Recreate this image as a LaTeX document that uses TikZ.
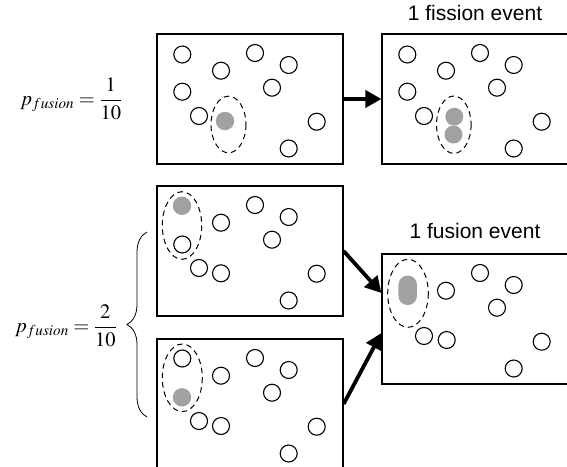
\documentclass[tikz,border=0pt]{standalone}
\usepackage{mathptmx}
\usepackage{fontspec}
\newfontfamily\evfont{Liberation Sans}
\usetikzlibrary{arrows.meta,decorations.pathreplacing,positioning}
\tikzset{
  box/.style={draw, line width=1.2pt, minimum width=186pt, minimum height=130pt, inner sep=0pt},
  particle/.style={draw, line width=1.1pt},
  grayparticle/.style={fill=black!37},
  cloud/.style={draw, line width=1pt, dash pattern=on 5.5pt off 4pt},
  bigarrow/.style={line width=3.8pt, -{Triangle[length=16pt,width=17pt]}},
  evlabel/.style={font=\evfont\fontsize{21}{25}\selectfont, inner sep=0pt},
  plabel/.style={font=\fontsize{20.5}{25}\selectfont, inner sep=0pt}
}
\def\sharedparts(#1){%
  \begin{scope}[shift={(#1)}]
    \draw[particle] (64,36.7) circle (8.5);
    \draw[particle] (98,19) circle (8.5);
    \draw[particle] (131.7,31) circle (8.5);
    \draw[particle] (115,53.7) circle (8.5);
    \draw[particle] (42,82) circle (8.5);
    \draw[particle] (159.7,87.7) circle (8.5);
    \draw[particle] (131.7,114.5) circle (8.5);
  \end{scope}}

\begin{document}
\begin{tikzpicture}[x=1pt, y=-1pt]
		%%%%% START %%%%%
		\useasboundingbox (0,0) rectangle (567,466);
		
		\node[box] (boxA) at (250,99) {};
		\node[box] (boxB) at (475,99) {};
		\node[box] (boxC) at (250,251) {};
		\node[box] (boxD) at (250,404) {};
		\node[box] (boxE) at (475,319) {};
		
		% top row
		\sharedparts(157,34)
		\draw[particle] (182.3,54.5) circle (8.5);
		\draw[particle] (182.3,91.7) circle (8.5);
		\fill[grayparticle] (225,121) circle (9.2);
		\draw[cloud] (228.5,124.5) ellipse (17.5 and 28.3);
		
		\sharedparts(382,34)
		\draw[particle] (407.3,54.5) circle (8.5);
		\draw[particle] (407.3,91.7) circle (8.5);
		\fill[grayparticle] (454.3,116.7) circle (9);
		\fill[grayparticle] (453.5,134.5) circle (9);
		\draw[cloud] (453.8,124.7) ellipse (17.3 and 28.7);
		
		% two ways to fuse
		\sharedparts(157,186)
		\fill[grayparticle] (182,205.8) circle (9.2);
		\draw[particle] (182.3,244.5) circle (8.5);
		\draw[particle] (221,273.3) circle (8.5);
		\draw[cloud] (182,225.5) ellipse (19.7 and 33.8);
		
		\sharedparts(157,339)
		\draw[particle] (182.3,358.5) circle (8.5);
		\fill[grayparticle] (182,397.3) circle (9.2);
		\draw[particle] (221,426) circle (8.5);
		\draw[cloud] (182.3,377.8) ellipse (20 and 33.8);
		
		\sharedparts(382,254)
		\fill[grayparticle, rounded corners=9.2] (398.45,275.55) rectangle (416.95,305.05);
		\draw[particle] (446.7,340) circle (8.5);
		\draw[cloud] (408,293.3) ellipse (20.3 and 34);
		
		\draw[bigarrow] (boxA.east) -- (boxB.west);
		\draw[bigarrow] (boxC.east) -- ([yshift=26pt]boxE.west);
		\draw[bigarrow] (boxD.east) -- ([yshift=-14pt]boxE.west);
		
		\node[evlabel, anchor=base] (fission) at ([yshift=12.5pt]boxB.north) {1 fission event};
		\node[evlabel, anchor=base] (fusion) at ([yshift=15pt]boxE.north) {1 fusion event};
		
		\node[plabel, anchor=east] (pone) at ([xshift=-34pt]boxA.west) {$p_{fusion}=\displaystyle\frac{1}{10}$};
		\node[plabel, anchor=east] (ptwo) at (117,326) {$p_{fusion}=\displaystyle\frac{2}{10}$};
		\draw[line width=0.8pt, decorate, decoration={brace, amplitude=20pt}] (147,417) -- (147,232);
		
		%%%%% END %%%%%
\end{tikzpicture}
\end{document}
